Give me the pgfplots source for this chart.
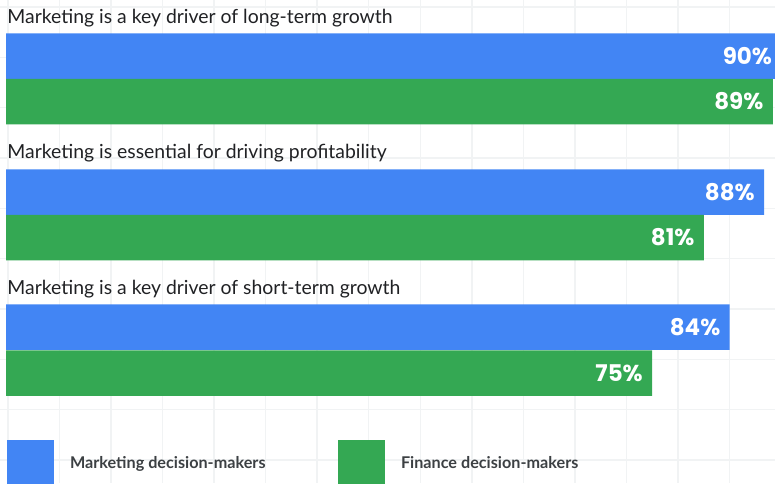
\documentclass[border=0pt]{standalone}
\usepackage{fontspec}
\setmainfont{Lato}
\newfontfamily\labfont{Poppins}
\usepackage{pgfplots}
\pgfplotsset{compat=1.18}
\definecolor{gblue}{HTML}{4285F4}
\definecolor{ggreen}{HTML}{34A853}
\definecolor{gridc}{HTML}{F1F3F4}
\definecolor{titlec}{HTML}{202124}
\definecolor{legc}{HTML}{3C4043}
\pgfplotsset{sqlegend/.style={legend image code/.code={\fill[##1] (0pt,-11.75pt) rectangle (23.5pt,11.75pt);}}}
\begin{document}
\begin{tikzpicture}
\path[use as bounding box, clip] (0,0) rectangle (387.5pt,241.5pt);
\begin{axis}[at={(0,0)}, anchor=south west, scale only axis,
  width=399.3pt, height=241.5pt,
  xmin=-0.70, xmax=92, ymin=0, ymax=483, y dir=reverse, enlargelimits=false,
  axis line style={draw=none}, major tick length=0pt,
  xtick={0.21,6.194,...,95}, ytick={7.1,57.4,...,480},
  xticklabels={}, yticklabels={},
  grid=major, major grid style={gridc, line width=0.7pt},
  xbar, bar width=45.5, bar shift=0pt,
  point meta=x,
  nodes near coords={\pgfmathprintnumber[assume math mode=true]{\pgfplotspointmeta}\%},
  nodes near coords style={anchor=east, xshift=-4.5pt, inner sep=0pt, text=white,
    font=\labfont\bfseries\fontsize{11.5}{12}\selectfont},
  legend style={at={(axis cs:0.116,440)}, anchor=north west, draw=none, fill=none,
    inner sep=0pt, outer sep=0pt, legend columns=2,
    nodes={inner sep=0pt, outer sep=0pt},
    /tikz/every odd column/.append style={column sep=8pt},
    font=\bfseries\fontsize{8.1}{9}\selectfont, text=legc},
  legend cell align=left,
]
\addplot[fill=gblue, draw=none, bar shift=0pt, sqlegend]
  coordinates {(90,56) (88,192) (84,327)};
\addlegendentry{\makebox[134pt][l]{Marketing decision-makers}}
\addplot[fill=ggreen, draw=none, bar shift=0pt, sqlegend]
  coordinates {(89,101.5) (81,237.5) (75,373)};
\addlegendentry{Finance decision-makers}
\node[anchor=base west, inner sep=0pt, text=titlec, font=\fontsize{9.7}{10}\selectfont]
  at (axis cs:0.116,23.3) {Marketing is a key driver of long-term growth};
\node[anchor=base west, inner sep=0pt, text=titlec, font=\fontsize{9.7}{10}\selectfont]
  at (axis cs:0.116,158.8) {Marketing is essential for driving profitability};
\node[anchor=base west, inner sep=0pt, text=titlec, font=\fontsize{9.7}{10}\selectfont]
  at (axis cs:0.116,294.3) {Marketing is a key driver of short-term growth};
\end{axis}
\end{tikzpicture}
\end{document}
